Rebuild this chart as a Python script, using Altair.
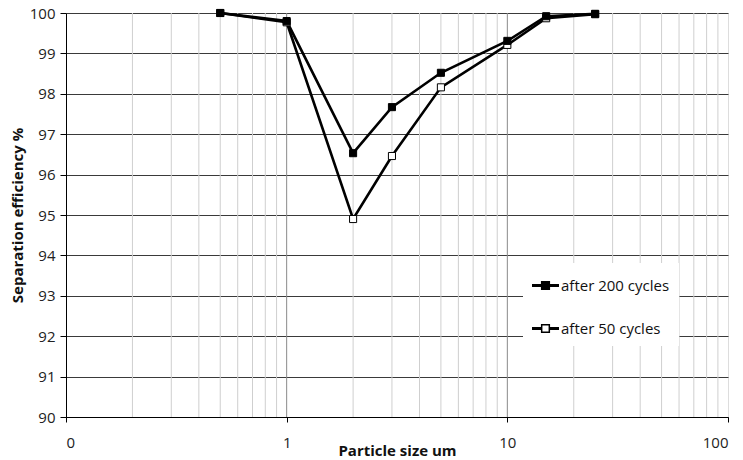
import altair as alt
import pandas as pd

sizes = [0.5, 1, 2, 3, 5, 10, 15, 25]
eff_200 = [100.0, 99.8, 96.53, 97.67, 98.52, 99.31, 99.92, 99.98]
eff_50 = [100.0, 99.77, 94.9, 96.46, 98.16, 99.21, 99.87, 99.97]
series_names = ["after 200 cycles", "after 50 cycles"]
x_major = [0.1, 1, 10, 100]
x_minor = [0.2, 0.3, 0.4, 0.5, 0.6, 0.7, 0.8, 0.9,
           2, 3, 4, 5, 6, 7, 8, 9,
           20, 30, 40, 50, 60, 70, 80, 90]
x_major_grid = [1, 10]
y_ticks = [90, 91, 92, 93, 94, 95, 96, 97, 98, 99, 100]

rows = []
for s, e in zip(sizes, eff_50):
    rows.append({"size": s, "eff": e, "series": series_names[1], "order": 0})
for s, e in zip(sizes, eff_200):
    rows.append({"size": s, "eff": e, "series": series_names[0], "order": 1})
df = pd.DataFrame(rows)

xscale = alt.Scale(type="log", domain=[0.1, 100])
yscale = alt.Scale(domain=[90, 100])

xaxis = alt.Axis(
    values=x_major, grid=False, title="Particle size um",
    labelExpr="datum.value == 0.1 ? '0' : format(datum.value, 'd')",
    tickColor="black", tickSize=5, domainColor="black",
    labelFont="Open Sans", labelFontSize=15, labelColor="#222",
    labelPadding=13, titleFont="Open Sans", titleFontSize=15,
    titleFontWeight="bold", titleY=38, titleBaseline="alphabetic",
    titleColor="#111",
)
yaxis = alt.Axis(
    values=y_ticks, grid=True, gridColor="#3a3a3a", gridWidth=1,
    title="Separation efficiency %", tickColor="black", tickSize=6,
    domainColor="black", labelFont="Open Sans", labelFontSize=15,
    labelColor="#222", labelPadding=5, titleFont="Open Sans",
    titleFontSize=15, titleFontWeight="bold", titlePadding=4,
    titleColor="#111",
)

minor = alt.Chart(pd.DataFrame({"v": x_minor})).mark_rule(
    color="#cfcfcf", strokeWidth=1
).encode(x=alt.X("v:Q", scale=xscale, axis=xaxis))
major = alt.Chart(pd.DataFrame({"v": x_major_grid})).mark_rule(
    color="#8a8a8a", strokeWidth=1
).encode(x=alt.X("v:Q", scale=xscale, axis=xaxis))

base = alt.Chart(df)

lines = base.mark_line(color="black", strokeWidth=2.6).encode(
    x=alt.X("size:Q", scale=xscale, axis=xaxis),
    y=alt.Y("eff:Q", scale=yscale, axis=yaxis),
    detail="series:N",
    order="order:Q",
)

symbol_path = ("M-1,-0.05 L-0.3,-0.05 L-0.3,-0.3 L0.3,-0.3 L0.3,-0.05 L1,-0.05 "
               "L1,0.05 L0.3,0.05 L0.3,0.3 L-0.3,0.3 L-0.3,0.05 L-1,0.05 Z")

points = base.mark_point(shape="square", size=50, stroke="black",
                         strokeWidth=1, opacity=1, filled=False).encode(
    x=alt.X("size:Q", scale=xscale, axis=xaxis),
    y=alt.Y("eff:Q", scale=yscale, axis=yaxis),
    fill=alt.Fill(
        "series:N",
        scale=alt.Scale(domain=series_names, range=["black", "white"]),
        legend=alt.Legend(
            title=None, orient="none", legendX=457, legendY=250,
            fillColor="white", padding=9, rowPadding=21,
            symbolType=symbol_path, symbolSize=650,
            symbolStrokeColor="black", symbolStrokeWidth=1.5,
            labelFont="Open Sans", labelFontSize=15, labelColor="#111",
            labelOffset=2, labelLimit=200,
        ),
    ),
    order="order:Q",
)

chart = alt.layer(minor, major, lines, points).properties(
    width=662, height=404,
    padding={"left": 66, "top": 13, "right": 15, "bottom": 43},
    autosize=alt.AutoSizeParams(type="none"),
).configure_view(stroke="black", strokeWidth=1).configure(
    background="white"
)

chart.save("out.html", embed_options={"renderer": "svg", "actions": False})
